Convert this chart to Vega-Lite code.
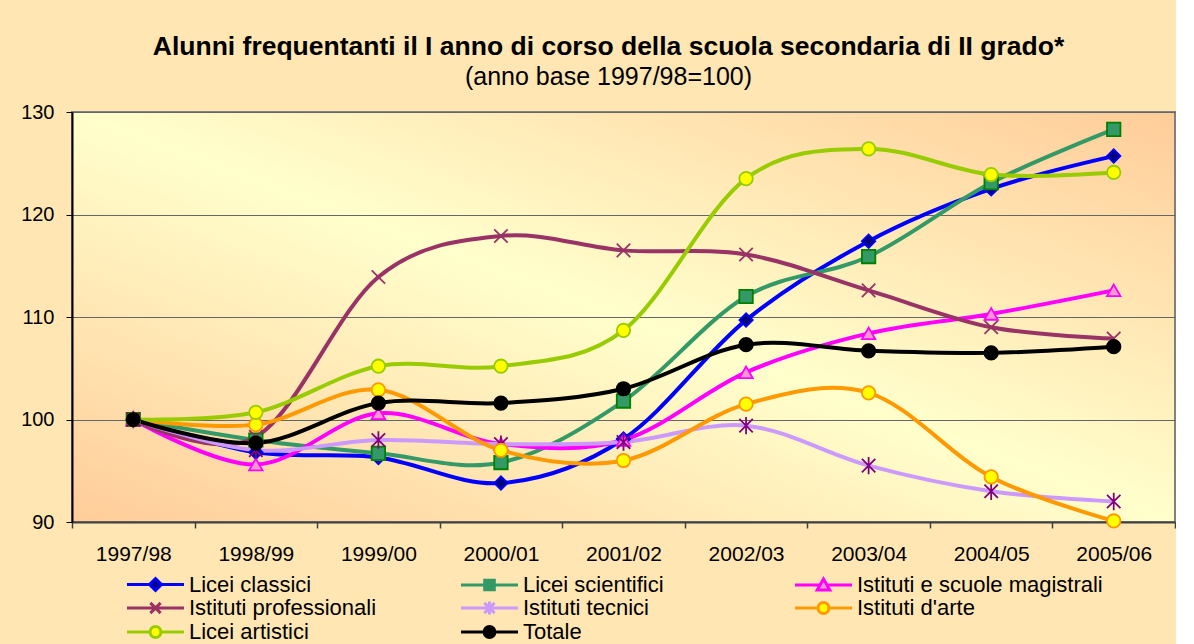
{
  "$schema": "https://vega.github.io/schema/vega-lite/v6.json",
  "width": 1103,
  "height": 410,
  "padding": {"left": 20, "top": 33, "right": 0, "bottom": 80},
  "background": "#FFE6B3",
  "config": {
    "font": "Liberation Sans",
    "view": {
      "stroke": "#808080",
      "strokeWidth": 2,
      "fill": {"gradient": "linear", "x1": 1, "y1": 0, "x2": 0, "y2": 1,
        "stops": [{"offset": 0, "color": "#FFCC99"}, {"offset": 0.5, "color": "#FFFFCC"}, {"offset": 1, "color": "#FFCC99"}]}
    }
  },
  "title": {
    "text": "Alunni frequentanti il I anno di corso della scuola secondaria di II grado*",
    "subtitle": "(anno base 1997/98=100)",
    "fontSize": 26.5,
    "fontWeight": "bold",
    "color": "#000000",
    "subtitleFontSize": 25,
    "subtitleColor": "#000000",
    "subtitlePadding": 5,
    "offset": 12,
    "anchor": "middle",
    "dx": -15
  },
  "data": {
    "values": [
      {"anno": "1997/98", "serie": "Licei classici", "valore": 100},
      {"anno": "1998/99", "serie": "Licei classici", "valore": 96.8},
      {"anno": "1999/00", "serie": "Licei classici", "valore": 96.3},
      {"anno": "2000/01", "serie": "Licei classici", "valore": 93.8},
      {"anno": "2001/02", "serie": "Licei classici", "valore": 98.1},
      {"anno": "2002/03", "serie": "Licei classici", "valore": 109.7},
      {"anno": "2003/04", "serie": "Licei classici", "valore": 117.4},
      {"anno": "2004/05", "serie": "Licei classici", "valore": 122.5},
      {"anno": "2005/06", "serie": "Licei classici", "valore": 125.7},
      {"anno": "1997/98", "serie": "Licei scientifici", "valore": 100},
      {"anno": "1998/99", "serie": "Licei scientifici", "valore": 98.0},
      {"anno": "1999/00", "serie": "Licei scientifici", "valore": 96.7},
      {"anno": "2000/01", "serie": "Licei scientifici", "valore": 95.8},
      {"anno": "2001/02", "serie": "Licei scientifici", "valore": 101.8},
      {"anno": "2002/03", "serie": "Licei scientifici", "valore": 112.0},
      {"anno": "2003/04", "serie": "Licei scientifici", "valore": 115.9},
      {"anno": "2004/05", "serie": "Licei scientifici", "valore": 123.1},
      {"anno": "2005/06", "serie": "Licei scientifici", "valore": 128.3},
      {"anno": "1997/98", "serie": "Istituti e scuole magistrali", "valore": 100},
      {"anno": "1998/99", "serie": "Istituti e scuole magistrali", "valore": 95.6},
      {"anno": "1999/00", "serie": "Istituti e scuole magistrali", "valore": 100.6},
      {"anno": "2000/01", "serie": "Istituti e scuole magistrali", "valore": 97.6},
      {"anno": "2001/02", "serie": "Istituti e scuole magistrali", "valore": 98.0},
      {"anno": "2002/03", "serie": "Istituti e scuole magistrali", "valore": 104.6},
      {"anno": "2003/04", "serie": "Istituti e scuole magistrali", "valore": 108.4},
      {"anno": "2004/05", "serie": "Istituti e scuole magistrali", "valore": 110.3},
      {"anno": "2005/06", "serie": "Istituti e scuole magistrali", "valore": 112.6},
      {"anno": "1997/98", "serie": "Istituti professionali", "valore": 100},
      {"anno": "1998/99", "serie": "Istituti professionali", "valore": 98.3},
      {"anno": "1999/00", "serie": "Istituti professionali", "valore": 113.9},
      {"anno": "2000/01", "serie": "Istituti professionali", "valore": 117.9},
      {"anno": "2001/02", "serie": "Istituti professionali", "valore": 116.5},
      {"anno": "2002/03", "serie": "Istituti professionali", "valore": 116.1},
      {"anno": "2003/04", "serie": "Istituti professionali", "valore": 112.6},
      {"anno": "2004/05", "serie": "Istituti professionali", "valore": 109.0},
      {"anno": "2005/06", "serie": "Istituti professionali", "valore": 107.9},
      {"anno": "1997/98", "serie": "Istituti tecnici", "valore": 100},
      {"anno": "1998/99", "serie": "Istituti tecnici", "valore": 97.0},
      {"anno": "1999/00", "serie": "Istituti tecnici", "valore": 98.0},
      {"anno": "2000/01", "serie": "Istituti tecnici", "valore": 97.6},
      {"anno": "2001/02", "serie": "Istituti tecnici", "valore": 97.8},
      {"anno": "2002/03", "serie": "Istituti tecnici", "valore": 99.4},
      {"anno": "2003/04", "serie": "Istituti tecnici", "valore": 95.5},
      {"anno": "2004/05", "serie": "Istituti tecnici", "valore": 93.0},
      {"anno": "2005/06", "serie": "Istituti tecnici", "valore": 92.0},
      {"anno": "1997/98", "serie": "Istituti d'arte", "valore": 100},
      {"anno": "1998/99", "serie": "Istituti d'arte", "valore": 99.5},
      {"anno": "1999/00", "serie": "Istituti d'arte", "valore": 102.9},
      {"anno": "2000/01", "serie": "Istituti d'arte", "valore": 97.0},
      {"anno": "2001/02", "serie": "Istituti d'arte", "valore": 96.0},
      {"anno": "2002/03", "serie": "Istituti d'arte", "valore": 101.5},
      {"anno": "2003/04", "serie": "Istituti d'arte", "valore": 102.6},
      {"anno": "2004/05", "serie": "Istituti d'arte", "valore": 94.4},
      {"anno": "2005/06", "serie": "Istituti d'arte", "valore": 90.1},
      {"anno": "1997/98", "serie": "Licei artistici", "valore": 100},
      {"anno": "1998/99", "serie": "Licei artistici", "valore": 100.7},
      {"anno": "1999/00", "serie": "Licei artistici", "valore": 105.2},
      {"anno": "2000/01", "serie": "Licei artistici", "valore": 105.2},
      {"anno": "2001/02", "serie": "Licei artistici", "valore": 108.7},
      {"anno": "2002/03", "serie": "Licei artistici", "valore": 123.5},
      {"anno": "2003/04", "serie": "Licei artistici", "valore": 126.4},
      {"anno": "2004/05", "serie": "Licei artistici", "valore": 123.9},
      {"anno": "2005/06", "serie": "Licei artistici", "valore": 124.1},
      {"anno": "1997/98", "serie": "Totale", "valore": 100},
      {"anno": "1998/99", "serie": "Totale", "valore": 97.7},
      {"anno": "1999/00", "serie": "Totale", "valore": 101.6},
      {"anno": "2000/01", "serie": "Totale", "valore": 101.6},
      {"anno": "2001/02", "serie": "Totale", "valore": 103.0},
      {"anno": "2002/03", "serie": "Totale", "valore": 107.3},
      {"anno": "2003/04", "serie": "Totale", "valore": 106.7},
      {"anno": "2004/05", "serie": "Totale", "valore": 106.5},
      {"anno": "2005/06", "serie": "Totale", "valore": 107.1}
    ]
  },
  "encoding": {
    "x": {
      "field": "anno",
      "type": "ordinal",
      "sort": null,
      "scale": {"type": "band", "paddingInner": 0, "paddingOuter": 0},
      "axis": {
        "title": null,
        "labelAngle": 0,
        "tickBand": "extent",
        "labelFontSize": 21,
        "labelColor": "#000000",
        "domainColor": "#404040",
        "domainWidth": 2,
        "tickColor": "#404040",
        "tickSize": 6,
        "tickWidth": 1.5,
        "labelPadding": 15,
        "grid": false
      }
    },
    "y": {
      "field": "valore",
      "type": "quantitative",
      "scale": {"domain": [90, 130], "nice": false, "zero": false},
      "axis": {
        "title": null,
        "values": [90, 100, 110, 120, 130],
        "labelFontSize": 20,
        "labelColor": "#000000",
        "domainColor": "#000000",
        "domainWidth": 2,
        "tickColor": "#000000",
        "tickSize": 6,
        "labelPadding": 12,
        "gridColor": "#666666",
        "gridWidth": 1
      }
    }
  },
  "resolve": {"scale": {"shape": "independent", "fill": "independent", "stroke": "independent"}},
  "layer": [
    {
      "mark": {"type": "line", "interpolate": "cardinal", "strokeWidth": 4},
      "encoding": {
        "color": {
          "field": "serie",
          "type": "nominal",
          "scale": {
            "domain": ["Licei classici", "Licei scientifici", "Istituti e scuole magistrali", "Istituti professionali", "Istituti tecnici", "Istituti d'arte", "Licei artistici", "Totale", "_"],
            "range": ["#0000FF", "#339966", "#FF00FF", "#993366", "#CC99FF", "#FF9900", "#99CC00", "#000000", "#000000"]
          },
          "legend": null
        }
      }
    },
    {
      "mark": {"type": "point", "filled": true, "size": 180, "strokeWidth": 1.8, "opacity": 1},
      "encoding": {
        "shape": {
          "field": "serie",
          "type": "nominal",
          "scale": {
            "domain": ["Licei classici", "Licei scientifici", "Istituti e scuole magistrali", "Istituti professionali", "Istituti tecnici", "Istituti d'arte", "Licei artistici", "Totale", "_"],
            "range": ["diamond", "square", "triangle-up", "M-1,-1L1,1M-1,1L1,-1", "M-1,-1L1,1M-1,1L1,-1M0,-1.3V1.3", "circle", "circle", "circle", "circle"]
          },
          "legend": null
        },
        "fill": {
          "field": "serie",
          "type": "nominal",
          "scale": {
            "domain": ["Licei classici", "Licei scientifici", "Istituti e scuole magistrali", "Istituti professionali", "Istituti tecnici", "Istituti d'arte", "Licei artistici", "Totale", "_"],
            "range": ["#000080", "#339966", "#FF99CC", "#993366", "#800080", "#FFFF00", "#FFFF00", "#000000", "#000000"]
          },
          "legend": null
        },
        "stroke": {
          "field": "serie",
          "type": "nominal",
          "scale": {
            "domain": ["Licei classici", "Licei scientifici", "Istituti e scuole magistrali", "Istituti professionali", "Istituti tecnici", "Istituti d'arte", "Licei artistici", "Totale", "_"],
            "range": ["#0000FF", "#008000", "#FF00FF", "#993366", "#800080", "#FF9900", "#99CC00", "#000000", "#000000"]
          },
          "legend": null
        }
      }
    },
    {
      "mark": {"type": "point", "filled": true, "size": 144, "strokeWidth": 3, "opacity": 0},
      "encoding": {
        "shape": {
          "field": "serie",
          "type": "nominal",
          "scale": {
            "domain": ["Licei classici", "Licei scientifici", "Istituti e scuole magistrali", "Istituti professionali", "Istituti tecnici", "Istituti d'arte", "Licei artistici", "Totale"],
            "range": [
              "M-1,0H2.75M4.75,0H8.5M3.75,-1L4.75,0L3.75,1L2.75,0Z",
              "M-1,0H2.95M4.55,0H8.5M2.95,-0.8H4.55V0.8H2.95Z",
              "M-1,0H3.17M4.33,0H8.5M3.75,-1L4.8,0.85H2.7Z",
              "M-1,0H8.5M2.9,-0.85L4.6,0.85M2.9,0.85L4.6,-0.85",
              "M-1,0H8.5M2.9,-0.85L4.6,0.85M2.9,0.85L4.6,-0.85M3.75,-1.1V1.1",
              "M-1,0H2.85M4.65,0H8.5M4.65,0A0.9,0.9,0,1,1,2.85,0A0.9,0.9,0,1,1,4.65,0Z",
              "M-1,0H2.85M4.65,0H8.5M4.65,0A0.9,0.9,0,1,1,2.85,0A0.9,0.9,0,1,1,4.65,0Z",
              "M-1,0H2.85M4.65,0H8.5M4.65,0A0.9,0.9,0,1,1,2.85,0A0.9,0.9,0,1,1,4.65,0Z"
            ]
          },
          "legend": {
            "title": null,
            "orient": "none",
            "legendX": 50,
            "legendY": 461,
            "direction": "horizontal",
            "columns": 3,
            "gridAlign": "all",
            "columnPadding": 20,
            "rowPadding": -7,
            "padding": 0,
            "labelFontSize": 22,
            "labelColor": "#000000",
            "labelLimit": 400,
            "labelOffset": 45,
            "symbolSize": 144,
            "symbolStrokeWidth": 3,
            "symbolOpacity": 1
          }
        },
        "fill": {
          "field": "serie",
          "type": "nominal",
          "scale": {
            "domain": ["Licei classici", "Licei scientifici", "Istituti e scuole magistrali", "Istituti professionali", "Istituti tecnici", "Istituti d'arte", "Licei artistici", "Totale"],
            "range": ["#000080", "#339966", "#FF99CC", "#993366", "#CC99FF", "#FFFF00", "#FFFF00", "#000000"]
          }
        },
        "stroke": {
          "field": "serie",
          "type": "nominal",
          "scale": {
            "domain": ["Licei classici", "Licei scientifici", "Istituti e scuole magistrali", "Istituti professionali", "Istituti tecnici", "Istituti d'arte", "Licei artistici", "Totale"],
            "range": ["#0000FF", "#339966", "#FF00FF", "#993366", "#CC99FF", "#FF9900", "#99CC00", "#000000"]
          }
        }
      }
    }
  ]
}
